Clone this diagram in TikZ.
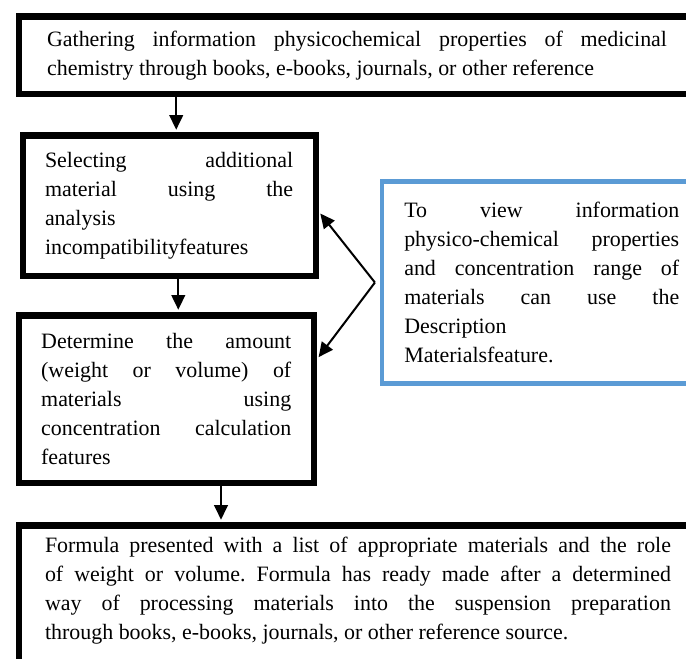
\documentclass[tikz,border=0pt]{standalone}
\usepackage{fontspec}
\setmainfont{Liberation Serif}
\usetikzlibrary{arrows.meta,calc}
\definecolor{ink}{HTML}{000000}
\definecolor{notefr}{HTML}{5B9BD5}
\tolerance=9999
\hyphenpenalty=10000
\frenchspacing
\tikzset{
  arr/.style={-{Triangle[length=2.8mm,width=2.6mm]}, line width=1.1pt, draw=ink, shorten >=1.5pt},
  figbase/.style={
    font=\fontsize{12}{15.8}\selectfont,
    color=ink,
  },
  box/.style={
    draw=ink, line width=3.3pt,
    fill=white,
    anchor=north west,
    inner sep=0pt,
    align=justify,
    text=ink,
  },
  stepbox/.style={box},
  notebox/.style={box, draw=notefr, line width=2.5pt},
}
\begin{document}
\begin{tikzpicture}[figbase, x=0.547pt, y=-0.547pt]
  \useasboundingbox (0,0) rectangle (686,659);

  \node[stepbox, minimum width=369.8pt, minimum height=42.4pt, text width=339.1pt] (top) at (16,13.5)
    {\parfillskip=0pt Gathering information physicochemical properties of medicinal\linebreak
     chemistry through books, e-books, journals, or other reference};
  \node[stepbox, minimum width=160.3pt, minimum height=76.6pt, text width=135.7pt] (sel) at (19.5,132.5)
    {Selecting additional\linebreak material using the\linebreak analysis\newline
     incompatibilityfeatures};
  \node[stepbox, minimum width=161.6pt, minimum height=91.6pt, text width=136.8pt] (amt) at (15.5,312.5)
    {Determine the amount\linebreak (weight or volume) of\linebreak materials using\linebreak
     concentration calculation\linebreak features};
  \node[notebox, minimum width=175pt, minimum height=110.2pt, text width=150.4pt] (info) at (379.5,179.5)
    {To view information\linebreak physico-chemical properties\linebreak and concentration range of\linebreak
     materials can use the\linebreak Description\newline Materialsfeature.};
  \node[stepbox, minimum width=371.4pt, minimum height=79.9pt, text width=342.4pt] (res) at (15.5,522.5)
    {Formula presented with a list of appropriate materials and the role\linebreak
     of weight or volume. Formula has ready made after a determined\linebreak
     way of processing materials into the suspension preparation\linebreak
     through books, e-books, journals, or other reference source.\rule[-11pt]{0pt}{0pt}};

  \coordinate (in1) at ($(sel.north west)!0.524!(sel.north east)$);
  \coordinate (in2) at ($(amt.north west)!0.54!(amt.north east)$);
  \coordinate (in3) at ($(res.north west)!0.30!(res.north east)$);
  \draw[arr] (top.south -| in1) -- (in1);
  \draw[arr] (sel.south -| in2) -- (in2);
  \draw[arr] (amt.south -| in3) -- (in3);

  \coordinate (fork) at ([xshift=-2.5pt]info.west);
  \coordinate (to1) at ($(sel.north east)!0.54!(sel.south east)$);
  \coordinate (to2) at ($(amt.north east)!0.27!(amt.south east)$);
  \draw[arr] (fork) -- (to1);
  \draw[arr] (fork) -- (to2);
\end{tikzpicture}
\end{document}
